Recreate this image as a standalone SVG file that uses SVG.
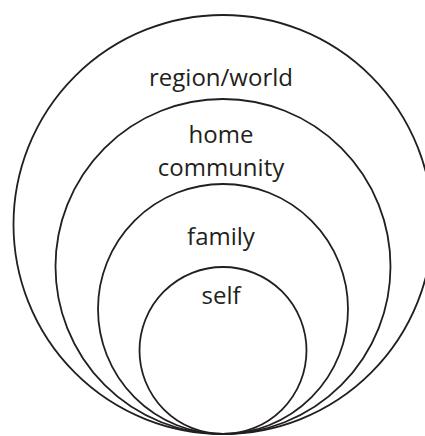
<svg xmlns="http://www.w3.org/2000/svg" width="425" height="436" viewBox="0 0 425 436">
  <style>
    .ring { fill: none; stroke: #231f20; stroke-width: 1.8; }
    .lbl { font-family: "Open Sans", "Liberation Sans", sans-serif; font-size: 24px; fill: #231f20; text-anchor: middle; }
  </style>
  <rect width="425" height="436" fill="#ffffff"/>
  <g id="region-world">
    <circle class="ring" cx="223" cy="224.5" r="209.5"/>
    <text class="lbl" x="221" y="86">region/world</text>
  </g>
  <g id="home-community">
    <circle class="ring" cx="223" cy="266.5" r="167.5"/>
    <text class="lbl" x="221" y="143">home</text>
    <text class="lbl" x="221" y="176">community</text>
  </g>
  <g id="family">
    <circle class="ring" cx="223" cy="309" r="125"/>
    <text class="lbl" x="221" y="245">family</text>
  </g>
  <g id="self">
    <circle class="ring" cx="223" cy="350.5" r="83.5"/>
    <text class="lbl" x="221" y="304">self</text>
  </g>
</svg>
